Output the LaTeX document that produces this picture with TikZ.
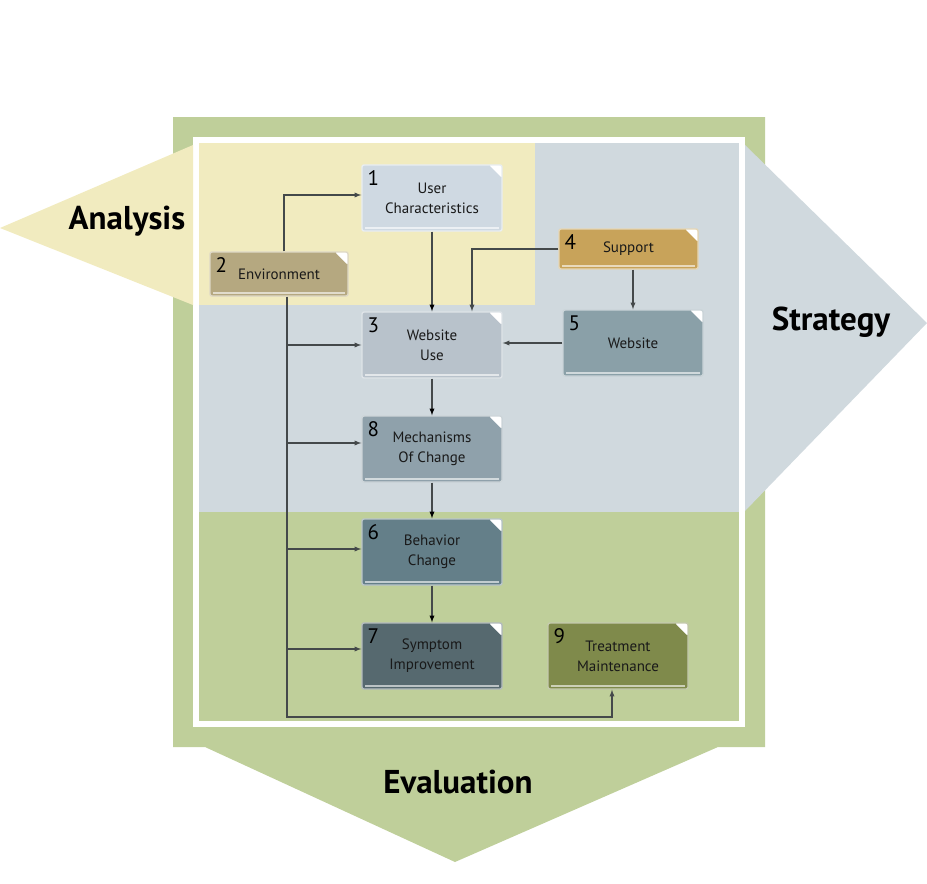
\documentclass[tikz,border=0pt]{standalone}
\usepackage{fontspec}
\setmainfont{PT Sans}
\usepackage{tikz}
\usetikzlibrary{arrows}

\definecolor{bandGreen}{HTML}{BFCF9A}
\definecolor{bandYellow}{HTML}{F1EBBF}
\definecolor{bandGrey}{HTML}{D0D9DE}
\definecolor{wireGrey}{HTML}{44494A}
\definecolor{cUser}{HTML}{CFD9E2}
\definecolor{cEnv}{HTML}{B5A880}
\definecolor{cUse}{HTML}{B8C2CB}
\definecolor{cSupport}{HTML}{C8A35A}
\definecolor{cSite}{HTML}{8AA0A8}
\definecolor{cMech}{HTML}{8FA1AB}
\definecolor{cBehav}{HTML}{647F89}
\definecolor{cSympt}{HTML}{56696F}
\definecolor{cMaint}{HTML}{7F8A4B}

\begin{document}
\begin{tikzpicture}[x=1pt, y=-1pt,
  blk/.style={draw=white!55!#1, fill=#1, line width=1.4pt, rounded corners=2pt,
    minimum width=140pt, minimum height=66pt, align=center, inner sep=0pt,
    text=black!90, font=\fontsize{15}{20}\selectfont,
    path picture={
      \fill[white] ([xshift=-13pt]path picture bounding box.north east) -- (path picture bounding box.north east) -- ([yshift=-13pt]path picture bounding box.north east) -- cycle;
      \draw[white!60!#1, line width=1.2pt] ([xshift=3pt,yshift=3pt]path picture bounding box.south west) -- ([xshift=-3pt,yshift=3pt]path picture bounding box.south east);
    }},
  num/.style={anchor=north west, inner sep=0pt, xshift=6pt, yshift=-6pt, text=black, font=\fontsize{21}{21}\selectfont},
  band/.style={font=\fontsize{33}{33}\selectfont\bfseries},
  wire/.style={draw=wireGrey, line width=1.3pt, ->, >=latex}]
  \useasboundingbox (0,0) rectangle (927,884);
  \fill[bandGreen] (173,117) -- (765,117) -- (765,747) -- (718,747) -- (455,862) -- (205,747) -- (173,747) -- cycle;
  \fill[white] (193,137) rectangle (745,727);
  \fill[bandGrey] (199,143) rectangle (739,512);
  \fill[bandYellow] (199,143) rectangle (535,305);
  \fill[bandGreen] (199,512) rectangle (739,721);
  \fill[bandYellow] (193,145) -- (0,228) -- (193,305) -- cycle;
  \fill[bandGrey] (745,145) -- (927,323) -- (745,511) -- cycle;

  \node[band] (analysis) at (127,221) {Analysis};
  \node[band] (strategy) at (831,322) {Strategy};
  \node[band] (evaluation) at (458,782) {Evaluation};

  \node[blk=cUser, label={[num,name=n1]north west:1}] (user) at (432,198) {User\\Characteristics};
  \node[blk=cEnv, minimum width=138pt, minimum height=44pt, label={[num,name=n2]north west:2}] (env) at (279,274) {Environment};
  \node[blk=cUse, label={[num,name=n3]north west:3}] (webuse) at (432,345) {Website\\Use};
  \node[blk=cSupport, minimum width=139pt, minimum height=40pt, label={[num,name=n4]north west:4}] (support) at (628.5,249) {Support};
  \node[blk=cSite, label={[num,name=n5]north west:5}] (site) at (633,343) {Website};
  \node[blk=cMech, label={[num,name=n8]north west:8}] (mech) at (432,449) {Mechanisms\\Of Change};
  \node[blk=cBehav, label={[num,name=n6]north west:6}] (behav) at (432,552) {Behavior\\Change};
  \node[blk=cSympt, label={[num,name=n7]north west:7}] (sympt) at (432,656) {Symptom\\Improvement};
  \node[blk=cMaint, label={[num,name=n9]north west:9}] (maint) at (618,656) {Treatment\\Maintenance};
  \coordinate (trunk) at (287,717);

  \draw[wire] ([xshift=5pt]env.north) |- ([yshift=3pt]user.west);
  \draw[wire] (support.west) -| ([xshift=40pt]webuse.north);
  \draw[wire] (site.north |- support.south) -- (site.north);
  \draw[wire] (site.west) -- (site.west -| webuse.east);
  \draw[wire] ([xshift=8pt]env.south) -- (trunk) -| ([xshift=-6pt]maint.south);
  \foreach \b/\dy in {webuse/0,mech/6,behav/3,sympt/7}
    \draw[wire] ([yshift=\dy pt]\b.west -| trunk) -- ([yshift=\dy pt]\b.west);
  \path[wire]
  (user) edge (webuse)
  (webuse) edge (mech)
  (mech) edge (behav)
  (behav) edge (sympt)
  ;
\end{tikzpicture}
\end{document}
